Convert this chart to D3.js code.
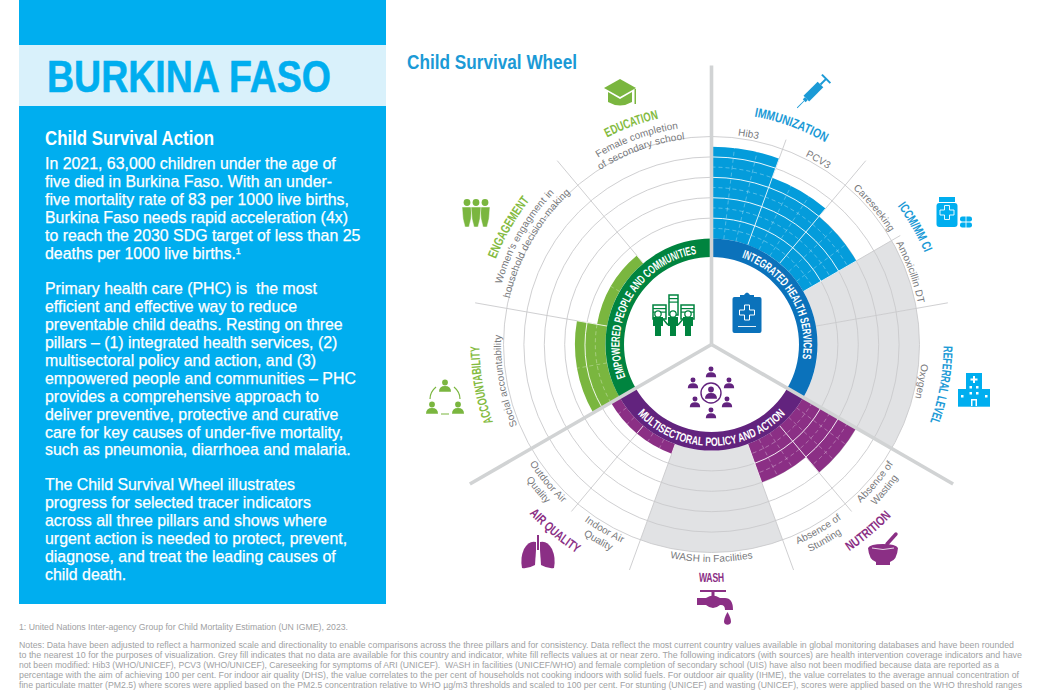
<!DOCTYPE html>
<html>
<head>
<meta charset="utf-8">
<script src="https://d3js.org/d3.v7.min.js"></script>
<style>
html, body { margin: 0; padding: 0; background: #fff; }
svg { display: block; }
text { font-family: "Liberation Sans", sans-serif; white-space: pre; }
</style>
</head>
<body>
<svg id="chart" width="1037" height="690"></svg>
<script>
var indicators = [
    ['Hib3'], ['PCV3'], ['Careseeking'], ['Amoxicillin DT'], ['Oxygen'],
    ['Absence of', 'Wasting'], ['Absence of', 'Stunting'], ['WASH in Facilities'],
    ['Indoor Air', 'Quality'], ['Outdoor Air', 'Quality'],
    ['Social accountability'],
    ["Women's engagment in", 'household decision-making'],
    ['Female completion', 'of secondary school']
];
// null = no data (grey fill)
var values = [90, 70, 60, null, null, 60, 40, null, 10, 10, 30, 10, 0];
var spans = [1, 1, 1, 1, 2, 1, 1, 2, 1, 1, 2, 2, 2];
var pillarOf = [0, 0, 0, 0, 0, 1, 1, 1, 1, 1, 2, 2, 2];
var groups = ['IMMUNIZATION', 'IMMUNIZATION', 'ICCM/MM CI', 'ICCM/MM CI', 'REFERRAL LEVEL',
    'NUTRITION', 'NUTRITION', 'WASH', 'AIR QUALITY', 'AIR QUALITY',
    'ACCOUNTABILITY', 'ENGAGEMENT', 'EDUCATION'];
var pillars = ['INTEGRATED HEALTH SERVICES', 'MULTISECTORAL POLICY AND ACTION', 'EMPOWERED PEOPLE AND COMMUNITIES'];
var ringTicks = [0, 10, 20, 30, 40, 50, 60, 70, 80, 90, 100];

var panelTitle = 'BURKINA FASO';
var panelHead = 'Child Survival Action';
var panelLines = [
    ['In 2021, 63,000 children under the age of', 169],
    ['five died in Burkina Faso. With an under-', 187],
    ['five mortality rate of 83 per 1000 live births,', 204.8],
    ['Burkina Faso needs rapid acceleration (4x)', 222.6],
    ['to reach the 2030 SDG target of less than 25', 240.5],
    ['deaths per 1000 live births.', 258.5],
    ['Primary health care (PHC) is  the most', 294],
    ['efficient and effective way to reduce', 312],
    ['preventable child deaths. Resting on three', 330],
    ['pillars – (1) integrated health services, (2)', 347.5],
    ['multisectoral policy and action, and (3)', 365.5],
    ['empowered people and communities – PHC', 383.5],
    ['provides a comprehensive approach to', 401.5],
    ['deliver preventive, protective and curative', 419.5],
    ['care for key causes of under-five mortality,', 437.5],
    ['such as pneumonia, diarrhoea and malaria.', 455],
    ['The Child Survival Wheel illustrates', 489.5],
    ['progress for selected tracer indicators', 507.5],
    ['across all three pillars and shows where', 525.5],
    ['urgent action is needed to protect, prevent,', 543.5],
    ['diagnose, and treat the leading causes of', 561.5],
    ['child death.', 579.5]
];
var footLines = [
    ['1: United Nations Inter-agency Group for Child Mortality Estimation (UN IGME), 2023.', 630, 329],
    ['Notes: Data have been adjusted to reflect a harmonized scale and directionality to enable comparisons across the three pillars and for consistency. Data reflect the most current country values available in global monitoring databases and have been rounded', 648, 995],
    ['to the nearest 10 for the purposes of visualization. Grey fill indicates that no data are available for this country and indicator, white fill reflects values at or near zero. The following indicators (with sources) are health intervention coverage indicators and have', 658, 1003],
    ['not been modified: Hib3 (WHO/UNICEF), PCV3 (WHO/UNICEF), Careseeking for symptoms of ARI (UNICEF).  WASH in facilities (UNICEF/WHO) and female completion of secondary school (UIS) have also not been modified because data are reported as a', 668, 980],
    ['percentage with the aim of achieving 100 per cent. For indoor air quality (DHS), the value correlates to the per cent of households not cooking indoors with solid fuels. For outdoor air quality (IHME), the value correlates to the average annual concentration of', 678, 1000],
    ['fine particulate matter (PM2.5) where scores were applied based on the PM2.5 concentration relative to WHO µg/m3 thresholds and scaled to 100 per cent. For stunting (UNICEF) and wasting (UNICEF), scores were applied based on the WHO threshold ranges', 688, 1003]
];

var cx = 711.5, cy = 344.5;
var innerR = 87.5, baseR = 106, outerR = 208;
var pillarDark = ['#0b72bb', '#62237e', '#00843f'];
var pillarFill = ['#049cdb', '#8b2f85', '#7ab63f'];
var labelColor = ['#1b9ad6', '#8b2f85', '#84bb41'];
var grid = '#c9cacc', noData = '#e1e2e4', spoke = '#d1d3d4', textGrey = '#77787b';
// arc lengths the condensed labels have to fit
var pillarLength = [128, 166, 163];
var groupLength = {
    'IMMUNIZATION': 76, 'ICCM/MM CI': 54, 'REFERRAL LEVEL': 78, 'NUTRITION': 55, 'WASH': 26,
    'AIR QUALITY': 62, 'ACCOUNTABILITY': 78, 'ENGAGEMENT': 68, 'EDUCATION': 55
};

var svg = d3.select('#chart');

// side panel
svg.append('rect').attr('x', 19).attr('y', 0).attr('width', 367).attr('height', 604).attr('fill', '#00aeef');
svg.append('rect').attr('x', 19).attr('y', 45).attr('width', 367).attr('height', 61).attr('fill', '#d9f1fb');
svg.append('text').attr('x', 47).attr('y', 91.5)
    .attr('font-size', 45).attr('font-weight', 700).attr('fill', '#00aeef')
    .attr('stroke', '#00aeef').attr('stroke-width', 0.6)
    .attr('textLength', 284).attr('lengthAdjust', 'spacingAndGlyphs').text(panelTitle);
svg.append('text').attr('x', 45).attr('y', 144.5)
    .attr('font-size', 20).attr('font-weight', 700).attr('fill', '#fff')
    .attr('textLength', 169).attr('lengthAdjust', 'spacingAndGlyphs').text(panelHead);
panelLines.forEach(function (l) {
    var t = svg.append('text').attr('x', 45).attr('y', l[1]).attr('font-size', 15.9)
        .attr('fill', '#fff').attr('stroke', '#fff').attr('stroke-width', 0.25).text(l[0]);
    if (l[0].indexOf('deaths per') === 0) {
        t.append('tspan').attr('font-size', 9).attr('dy', -5).text('1');
    }
});

svg.append('text').attr('x', 407).attr('y', 69)
    .attr('font-size', 20).attr('font-weight', 700).attr('fill', '#1b9ad6')
    .attr('textLength', 170).attr('lengthAdjust', 'spacingAndGlyphs').text('Child Survival Wheel');

footLines.forEach(function (l) {
    svg.append('text').attr('x', 19).attr('y', l[1]).attr('font-size', 8.4)
        .attr('fill', '#a0a1a3').attr('textLength', l[2]).attr('lengthAdjust', 'spacingAndGlyphs').text(l[0]);
});

// scales
var total = d3.sum(spans);
var angle = d3.scaleLinear().domain([0, total]).range([0, 2 * Math.PI]);
var radius = d3.scaleLinear().domain([0, 100]).range([baseR, outerR]);
var deg = function (a) { return a * 180 / Math.PI; };

var sectors = [];
var pos = 0;
for (var i = 0; i < indicators.length; i++) {
    sectors.push({
        i: i, lines: indicators[i], value: values[i], pillar: pillarOf[i], group: groups[i],
        span: spans[i], a0: angle(pos), a1: angle(pos + spans[i])
    });
    pos += spans[i];
}

var wheel = svg.append('g').attr('transform', 'translate(' + cx + ',' + cy + ')');
var arc = d3.arc();

function arcLine(r, a0, a1) {
    var p = d3.path();
    p.arc(0, 0, r, a0 - Math.PI / 2, a1 - Math.PI / 2);
    return p.toString();
}
function spokeEnd(a, r) {
    return [r * Math.sin(a), -r * Math.cos(a)];
}

// no data sectors
wheel.selectAll('path.nodata').data(sectors.filter(function (d) { return d.value === null; }))
    .enter().append('path').attr('class', 'nodata').attr('fill', noData)
    .attr('d', function (d) {
        return arc({ innerRadius: baseR, outerRadius: outerR, startAngle: d.a0, endAngle: d.a1 });
    });

// grey rings every 20
wheel.selectAll('path.ring').data(ringTicks.filter(function (t) { return t % 20 === 0 && t > 0; }))
    .enter().append('path').attr('class', 'ring').attr('fill', 'none')
    .attr('stroke', grid).attr('stroke-width', 0.9)
    .attr('d', function (t) { return arcLine(radius(t), 0, 2 * Math.PI); });

// thin spokes between indicators
sectors.forEach(function (d, n) {
    if (n === 0 || d.pillar !== sectors[n - 1].pillar) return;
    var long = d.group !== sectors[n - 1].group;
    var a = spokeEnd(d.a0, baseR), b = spokeEnd(d.a0, long ? 240 : 218);
    wheel.append('line').attr('x1', a[0]).attr('y1', a[1]).attr('x2', b[0]).attr('y2', b[1])
        .attr('stroke', grid).attr('stroke-width', 0.9);
});

// value fills
wheel.selectAll('path.fill').data(sectors.filter(function (d) { return d.value > 0; }))
    .enter().append('path').attr('class', 'fill')
    .attr('fill', function (d) { return pillarFill[d.pillar]; })
    .attr('d', function (d) {
        return arc({ innerRadius: baseR, outerRadius: radius(d.value), startAngle: d.a0, endAngle: d.a1 });
    });

// white grid inside the fills
sectors.filter(function (d) { return d.value > 0; }).forEach(function (d) {
    ringTicks.filter(function (t) { return t > 0 && t < d.value; }).forEach(function (t) {
        var solid = t % 20 === 0;
        wheel.append('path').attr('fill', 'none').attr('stroke', '#fff')
            .attr('stroke-width', solid ? 1 : 0.6).attr('stroke-opacity', solid ? 0.9 : 0.55)
            .attr('stroke-dasharray', solid ? null : '4,3')
            .attr('d', arcLine(radius(t), d.a0, d.a1));
    });
    var parts = d.span === 1 ? 3 : 2;
    for (var k = 1; k < parts; k++) {
        var a = d.a0 + (d.a1 - d.a0) * k / parts;
        var p = spokeEnd(a, baseR), q = spokeEnd(a, radius(d.value));
        wheel.append('line').attr('x1', p[0]).attr('y1', p[1]).attr('x2', q[0]).attr('y2', q[1])
            .attr('stroke', '#fff').attr('stroke-width', 0.6).attr('stroke-opacity', 0.5)
            .attr('stroke-dasharray', '4,3');
    }
});
sectors.forEach(function (d, n) {
    if (n === 0 || d.pillar !== sectors[n - 1].pillar) return;
    var top = Math.max(d.value || 0, sectors[n - 1].value || 0);
    if (top === 0) return;
    var a = spokeEnd(d.a0, baseR), b = spokeEnd(d.a0, radius(top));
    wheel.append('line').attr('x1', a[0]).attr('y1', a[1]).attr('x2', b[0]).attr('y2', b[1])
        .attr('stroke', '#fff').attr('stroke-width', 1).attr('stroke-opacity', 0.8);
});

// pillar ring
var pillarSpans = pillars.map(function (name, p) {
    var s = sectors.filter(function (d) { return d.pillar === p; });
    return { name: name, p: p, a0: s[0].a0, a1: s[s.length - 1].a1 };
});
wheel.append('circle').attr('r', innerR).attr('fill', '#fff');
wheel.selectAll('path.pillar').data(pillarSpans).enter().append('path').attr('class', 'pillar')
    .attr('fill', function (d) { return pillarDark[d.p]; })
    .attr('d', function (d) {
        return arc({ innerRadius: innerR, outerRadius: baseR, startAngle: d.a0, endAngle: d.a1 });
    });

// heavy spokes
wheel.selectAll('line.heavy').data(pillarSpans).enter().append('line').attr('class', 'heavy')
    .attr('x1', 0).attr('y1', 0)
    .attr('x2', function (d) { return spokeEnd(d.a0, 279)[0]; })
    .attr('y2', function (d) { return spokeEnd(d.a0, 279)[1]; })
    .attr('stroke', spoke).attr('stroke-width', 3.6);

// curved text
var defs = svg.append('defs');
var pathId = 0;
function curved(txt, midDeg, r, ccw, attrs, len) {
    var id = 'tp' + (pathId++);
    var a = midDeg * Math.PI / 180;
    var sw = Math.PI * 0.6;
    var s = spokeEnd(ccw ? a + sw : a - sw, r), e = spokeEnd(ccw ? a - sw : a + sw, r);
    defs.append('path').attr('id', id)
        .attr('d', 'M' + s[0] + ',' + s[1] + 'A' + r + ',' + r + ' 0 1,' + (ccw ? 0 : 1) + ' ' + e[0] + ',' + e[1]);
    var t = wheel.append('text').attr('text-anchor', 'middle');
    Object.keys(attrs).forEach(function (k) { t.attr(k, attrs[k]); });
    var tp = t.append('textPath').attr('href', '#' + id).attr('startOffset', '50%').text(txt);
    if (len) tp.attr('textLength', len).attr('lengthAdjust', 'spacingAndGlyphs');
}
function isCcw(m) { return m > 120 && m < 240; }

pillarSpans.forEach(function (d) {
    var mid = deg(d.a0 + d.a1) / 2;
    var ccw = isCcw(mid);
    curved(d.name, d.p === 0 ? mid - 1 : mid, ccw ? 101.5 : 92, ccw, {
        'font-size': 12, 'font-weight': 700, 'fill': '#fff'
    }, pillarLength[d.p]);
});

sectors.forEach(function (d) {
    var mid = deg(d.a0 + d.a1) / 2, ccw = isCcw(mid);
    d.lines.forEach(function (line, n) {
        var r;
        if (d.lines.length === 1) r = ccw ? 214 + 3.5 : 214 - 3.5;
        else if (ccw) r = (n === 0 ? 214 : 226) + 3.5;
        else r = (n === 0 ? 222 : 210.5) - 3.5;
        curved(line, mid, r, ccw, { 'font-size': 10, 'fill': textGrey, 'letter-spacing': 0.1 });
    });
});

d3.groups(sectors, function (d) { return d.group; }).forEach(function (g) {
    var s = g[1], mid = deg(s[0].a0 + s[s.length - 1].a1) / 2, ccw = isCcw(mid);
    var r = ccw ? (s.length > 1 ? 244 : 233) : 236.5;
    curved(g[0], mid, ccw ? r + 4.5 : r - 4.5, ccw, {
        'font-size': 13, 'font-weight': 700, 'fill': labelColor[s[0].pillar]
    }, groupLength[g[0]]);
});

// icons
function icon(x, y, col) {
    return svg.append('g').attr('transform', 'translate(' + x + ',' + y + ')').attr('fill', col);
}
function person(g, x, y, s) {
    g.append('circle').attr('cx', x).attr('cy', y - s * 0.75).attr('r', s * 0.48);
    g.append('path').attr('d', 'M' + (x - s) + ',' + (y + s * 0.8)
        + 'Q' + (x - s) + ',' + (y - s * 0.15) + ' ' + x + ',' + (y - s * 0.15)
        + 'Q' + (x + s) + ',' + (y - s * 0.15) + ' ' + (x + s) + ',' + (y + s * 0.8) + 'Z');
}

var cap = icon(620, 93, '#7ab63f');
cap.append('path').attr('d', 'M0,-14L16,-5L0,4L-16,-5Z');
cap.append('path').attr('d', 'M-12,-1L0,6L12,-1V9Q0,16 -12,9Z');
cap.append('rect').attr('x', 14.5).attr('y', -4).attr('width', 1.5).attr('height', 15);

var syr = icon(812, 93, '#1b9ad6').append('g').attr('transform', 'rotate(45)');
syr.append('rect').attr('x', -4).attr('y', -12).attr('width', 8).attr('height', 20);
syr.append('rect').attr('x', -1).attr('y', -20).attr('width', 2).attr('height', 8);
syr.append('rect').attr('x', -6).attr('y', -21).attr('width', 12).attr('height', 2);
syr.append('rect').attr('x', -2).attr('y', 8).attr('width', 4).attr('height', 3);
syr.append('rect').attr('x', -0.4).attr('y', 11).attr('width', 0.8).attr('height', 10);

var bottle = icon(947, 212, '#00aeef');
bottle.append('rect').attr('x', -8).attr('y', -15).attr('width', 16).attr('height', 5);
bottle.append('rect').attr('x', -10.5).attr('y', -9).attr('width', 21).attr('height', 24).attr('rx', 3);
bottle.append('path').attr('d', 'M-2.5,-6.5h5v4.5h4.5v5h-4.5v4.5h-5v-4.5h-4.5v-5h4.5z')
    .attr('fill', 'none').attr('stroke', '#fff').attr('stroke-width', 0.9);
var pills = icon(966, 222, '#00aeef');
pills.append('rect').attr('x', -6).attr('y', -5.5).attr('width', 12).attr('height', 5).attr('rx', 2.2);
pills.append('rect').attr('x', -6).attr('y', 0.5).attr('width', 12).attr('height', 5).attr('rx', 2.2);
pills.append('rect').attr('x', -0.4).attr('y', -6).attr('width', 0.8).attr('height', 12).attr('fill', '#fff');

var hosp = icon(974, 390, '#00aeef');
hosp.append('rect').attr('x', -8).attr('y', -17).attr('width', 16).attr('height', 33);
hosp.append('rect').attr('x', -16).attr('y', -1).attr('width', 32).attr('height', 17);
hosp.append('rect').attr('x', -16).attr('y', 15.5).attr('width', 32).attr('height', 1.2);
hosp.append('path').attr('d', 'M-1,-14h2v2.5h2.5v2h-2.5v2.5h-2v-2.5h-2.5v-2h2.5z').attr('fill', '#fff');
[[-4.5, -4], [2, -4], [-4.5, 2], [2, 2], [-13, 5], [11, 5]].forEach(function (w) {
    hosp.append('rect').attr('x', w[0]).attr('y', w[1]).attr('width', 2.5).attr('height', 2.5).attr('fill', '#fff');
});
hosp.append('rect').attr('x', -3).attr('y', 9).attr('width', 6).attr('height', 7).attr('fill', '#fff');
hosp.append('rect').attr('x', -1.5).attr('y', 10.5).attr('width', 3).attr('height', 6);

var bowl = icon(883, 552, '#8b2f85');
bowl.append('path').attr('d', 'M-15,-4Q-13,-8 0,-8Q13,-8 15,-4Q14,8 7,10V13H-7V10Q-14,8 -15,-4Z');
bowl.append('path').attr('d', 'M-11,-4Q0,-1 11,-4').attr('fill', 'none').attr('stroke', '#fff').attr('stroke-width', 0.8);
bowl.append('line').attr('x1', 4).attr('y1', -8).attr('x2', 13).attr('y2', -18)
    .attr('stroke', '#8b2f85').attr('stroke-width', 3.4).attr('stroke-linecap', 'round');

var tap = icon(713, 602, '#8b2f85');
tap.append('rect').attr('x', -13).attr('y', -12).attr('width', 26).attr('height', 2);
tap.append('rect').attr('x', -1.5).attr('y', -11).attr('width', 3).attr('height', 6);
tap.append('path').attr('d', 'M-16,-4H-7Q0,-9 7,-4H12Q20,-4 20,8H12Q12,3 8,3H7Q0,9 -7,3H-16Z');
tap.append('path').attr('d', 'M14.5,10Q18,16 18,20A3.6,3.6 0 0 1 11,20Q11,16 14.5,10Z');

var lungs = icon(538, 552, '#8b2f85');
lungs.append('rect').attr('x', -1).attr('y', -17).attr('width', 2).attr('height', 15);
lungs.append('path').attr('d', 'M-2,-10V-2L-3,13Q-10,17 -16,16Q-18,6 -14,-3Q-9,-12 -2,-10Z');
lungs.append('path').attr('d', 'M2,-10V-2L3,13Q10,17 16,16Q18,6 14,-3Q9,-12 2,-10Z');

var team = icon(445, 397, '#7ab63f');
person(team, 0, -10, 6);
person(team, -13, 12, 6);
person(team, 13, 12, 6);
team.append('path').attr('d', 'M-9,-10Q-15,-5 -15,2M9,-10Q15,-5 15,2M-4,17H4').attr('fill', 'none')
    .attr('stroke', '#7ab63f').attr('stroke-width', 1.2);

var crowd = icon(476, 213, '#7ab63f');
[-9, 9, 0].forEach(function (x) {
    crowd.append('circle').attr('cx', x).attr('cy', -10.5).attr('r', 3.4);
    crowd.append('path').attr('d', 'M' + (x - 5) + ',-6H' + (x + 5) + 'L' + (x + 4) + ',6L' + (x + 2) + ',14H' + (x - 2) + 'L' + (x - 4) + ',6Z')
        .attr('stroke', '#fff').attr('stroke-width', 0.5);
});

var clip = icon(747, 313, '#0b72bb');
clip.append('rect').attr('x', -14.5).attr('y', -16).attr('width', 29).attr('height', 36).attr('rx', 2);
clip.append('path').attr('d', 'M-7,-16V-18H-3Q0,-23 3,-18H7V-16Z');
clip.append('path').attr('d', 'M-2.5,-8h5v5h5v5h-5v5h-5v-5h-5v-5h5z').attr('fill', 'none').attr('stroke', '#fff').attr('stroke-width', 1);
clip.append('rect').attr('x', -9).attr('y', 13).attr('width', 18).attr('height', 0.9).attr('fill', '#fff');

var net = icon(711, 393, '#62237e');
person(net, 0, -20, 5.2);
person(net, 0, 21, 5.2);
person(net, -18, -9, 5.2);
person(net, 18, -9, 5.2);
person(net, -16, 10, 5.2);
person(net, 16, 10, 5.2);
person(net, 0, 1, 6);
net.append('circle').attr('r', 10).attr('fill', 'none').attr('stroke', '#62237e').attr('stroke-width', 1.4);

var com = icon(673, 315, '#00843f');
[[-20, -10, 13, 14], [-4, -20, 9, 20], [8, -10, 13, 14]].forEach(function (b) {
    com.append('rect').attr('x', b[0]).attr('y', b[1]).attr('width', b[2]).attr('height', b[3])
        .attr('fill', '#fff').attr('stroke', '#00843f').attr('stroke-width', 1.5);
    com.append('rect').attr('x', b[0]).attr('y', b[1] + 3).attr('width', b[2]).attr('height', 1.2);
    com.append('rect').attr('x', b[0]).attr('y', b[1] + 6.5).attr('width', b[2]).attr('height', 1.2);
});
[-15, 0, 15].forEach(function (x) {
    com.append('circle').attr('cx', x).attr('cy', -1).attr('r', 3.2).attr('fill', '#fff')
        .attr('stroke', '#00843f').attr('stroke-width', 1.3);
    com.append('path').attr('d', 'M' + (x - 5) + ',2H' + (x + 5) + 'V11H' + (x + 3) + 'V21H' + (x - 3) + 'V11H' + (x - 5) + 'Z');
});
com.append('path').attr('d', 'M-10,4L-5,10M10,4L5,10').attr('stroke', '#00843f').attr('stroke-width', 1.5);
</script>
</body>
</html>
